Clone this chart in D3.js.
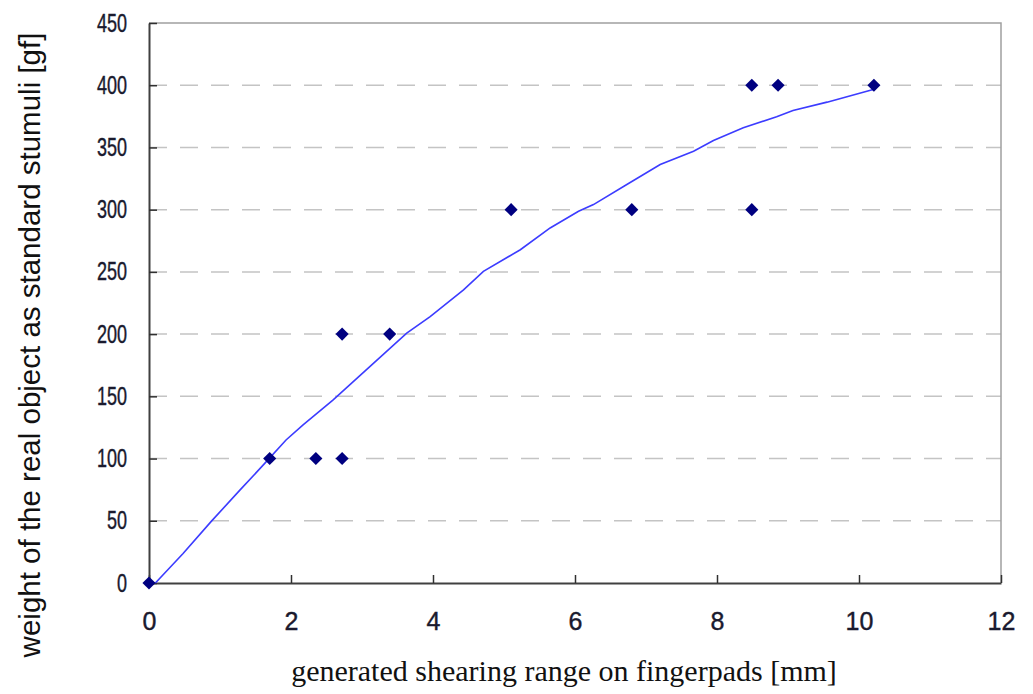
<!DOCTYPE html>
<html>
<head>
<meta charset="utf-8">
<script src="https://cdn.jsdelivr.net/npm/d3@7"></script>
<style>
  body { margin: 0; background: #fff; }
  svg { display: block; }
</style>
</head>
<body>
<div id="chart-area"></div>
<script>
// measured points (shearing range [mm], weight [gf])
var pointX = [0, 1.7, 2.35, 2.72, 2.72, 3.39, 5.1, 6.8, 8.49, 8.49, 8.86, 10.21];
var pointY = [0, 100, 100, 100, 200, 200, 300, 300, 300, 400, 400, 400];

// fitted curve
var curveX = [0.09, 0.48, 0.88, 1.28, 1.63, 1.93, 2.17, 2.59, 3.11, 3.63, 3.96, 4.43, 4.71, 5.23, 5.65, 6.05, 6.26, 6.73, 7.2, 7.67, 7.95, 8.37, 8.84, 9.07, 9.55, 10.2];
var curveY = [0, 23.7, 49.7, 74.6, 96.1, 114.9, 127, 147, 173.9, 200.8, 214.1, 235.6, 250.4, 267.8, 285.3, 298.7, 304.1, 320.2, 336.3, 347, 355.6, 365.8, 374.7, 379.7, 386.4, 396.6];

var xTicks = [0, 2, 4, 6, 8, 10, 12];
var yTicks = [0, 50, 100, 150, 200, 250, 300, 350, 400, 450];

var margin = { left: 149, top: 23, right: 32, bottom: 111 };
var W = 1033, H = 694;
var width = W - margin.left - margin.right,
    height = H - margin.top - margin.bottom;

var svg = d3.select('#chart-area').append('svg')
    .attr('width', W).attr('height', H);
var g = svg.append('g')
    .attr('transform', 'translate(' + margin.left + ',' + margin.top + ')');

var x = d3.scaleLinear().domain([0, 12]).range([0, width]);
var y = d3.scaleLinear().domain([0, 450]).range([height, 0]);

// dashed grid
g.selectAll('.grid').data(yTicks.filter(v => v > 0 && v < 450)).enter()
  .append('line')
    .attr('x1', 0).attr('x2', width)
    .attr('y1', d => y(d)).attr('y2', d => y(d))
    .attr('stroke', '#c4c4c4').attr('stroke-width', 1.5)
    .attr('stroke-dasharray', '18,13');

// top / right frame
g.append('path')
  .attr('d', 'M0,' + y(450) + 'H' + x(12) + 'V' + y(0))
  .attr('fill', 'none').attr('stroke', '#a0a0a0').attr('stroke-width', 1.5);

var tickFont = '"Liberation Sans", Arial, sans-serif';

var xAxis = d3.axisBottom(x).tickValues(xTicks).tickSizeInner(-8).tickSizeOuter(0).tickPadding(29);
var yAxis = d3.axisLeft(y).tickValues(yTicks).tickSizeInner(-8).tickSizeOuter(0);

var gx = g.append('g').attr('transform', 'translate(0,' + height + ')').call(xAxis);
var gy = g.append('g').call(yAxis);

[gx, gy].forEach(a => {
  a.select('.domain').attr('stroke', '#404040').attr('stroke-width', 2);
  a.selectAll('.tick line').attr('stroke', '#303030').attr('stroke-width', 1.5);
  a.selectAll('.tick text').attr('fill', '#1a1a2e')
    .attr('stroke', '#1a1a2e').attr('stroke-width', 0.4)
    .style('font-family', tickFont).style('font-size', '25px');
});

// y tick labels are narrower in the original
gy.selectAll('.tick text')
  .attr('x', 0)
  .attr('transform', 'translate(-22,0) scale(0.72,1)');

// curve
var line = d3.line().x(d => x(d[0])).y(d => y(d[1]));
g.append('path')
  .datum(curveX.map((v, i) => [v, curveY[i]]))
  .attr('d', line)
  .attr('fill', 'none').attr('stroke', '#3c3cff').attr('stroke-width', 1.6);

// points
var diamond = d3.symbol().type(d3.symbolSquare).size(86);
g.selectAll('.pt').data(pointX.map((v, i) => [v, pointY[i]])).enter()
  .append('path')
    .attr('d', diamond)
    .attr('transform', d => 'translate(' + x(d[0]) + ',' + y(d[1]) + ') rotate(45)')
    .attr('fill', '#000080');

// axis titles
svg.append('text')
  .attr('transform', 'translate(40,345) rotate(-90)')
  .attr('text-anchor', 'middle')
  .attr('fill', '#111')
  .style('font-family', tickFont).style('font-size', '29.5px')
  .text('weight of the real object as standard stumuli [gf]');

svg.append('text')
  .attr('x', 564).attr('y', 681)
  .attr('text-anchor', 'middle')
  .attr('fill', '#111')
  .style('font-family', '"Liberation Serif", "Times New Roman", serif').style('font-size', '30px')
  .text('generated shearing range on fingerpads [mm]');
</script>
</body>
</html>
